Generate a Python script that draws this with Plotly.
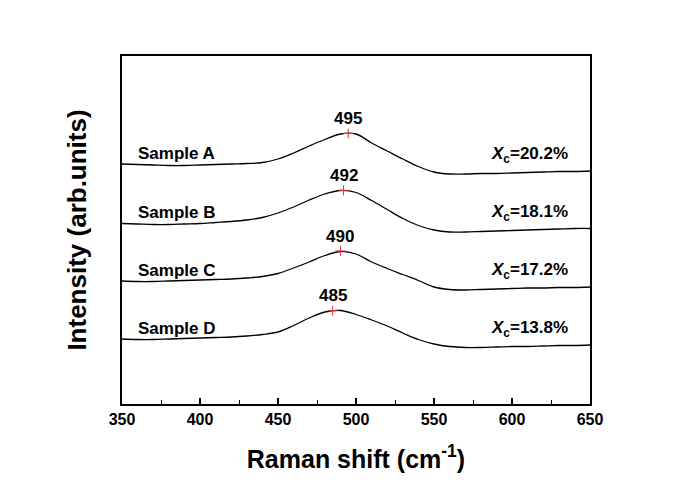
"""Raman spectra of samples A-D with crystalline fraction labels."""

import numpy as np
import plotly.graph_objects as go

raman_shift = list(range(350, 651, 10))

intensity_a = [240, 239.5, 239, 238.5, 238.5, 239, 239.5, 240, 240.5, 241.5, 245, 251, 258, 264.5, 270,
               270, 261, 253, 245, 237.5, 232, 230, 230, 230.5, 230.5, 231, 231.5, 232, 232.5, 232.5, 233]
intensity_b = [180.5, 180, 179.5, 179.5, 180, 180.5, 181.5, 182.5, 184, 186.5, 191, 197, 204, 210, 213.5,
               211.5, 203.5, 194.5, 185.5, 178.5, 174, 172, 172, 172.5, 173, 173.5, 174, 174.5, 175, 175.5, 175.5]
intensity_c = [123, 122.5, 122.5, 123, 123.5, 124, 124.5, 125, 126, 127.5, 130.5, 136, 142, 148.5, 152.5,
               150, 142, 135.5, 129.5, 123.5, 117, 114.5, 114, 114.5, 115, 115.5, 116, 116, 116.5, 116.5, 117]
intensity_d = [65, 64.5, 64.5, 65, 65.5, 66, 66.5, 67, 68, 69.5, 72, 78.5, 86, 92, 93.5,
               89.5, 84, 78, 71, 64.5, 60, 57.5, 56.5, 56.5, 57, 57.5, 57.5, 58, 58.5, 58.5, 59]

sample_names = ["Sample A", "Sample B", "Sample C", "Sample D"]
peak_positions = [495, 492, 490, 485]
crystalline_fraction = ["20.2%", "18.1%", "17.2%", "13.8%"]
series = [intensity_a, intensity_b, intensity_c, intensity_d]

FONT = "Arial, Liberation Sans, sans-serif"

fig = go.Figure()

for name, ys, peak, xc in zip(sample_names, series, peak_positions, crystalline_fraction):
    fig.add_trace(go.Scatter(
        x=raman_shift, y=ys, mode="lines", name=name,
        line=dict(color="black", width=1.3, shape="spline", smoothing=1.0),
        showlegend=False,
    ))
    peak_y = float(np.interp(peak, raman_shift, ys)) + 0.5
    fig.add_trace(go.Scatter(
        x=[peak], y=[peak_y], mode="markers",
        marker=dict(symbol="cross-thin", size=7, line=dict(color="#e8333a", width=1)),
        showlegend=False,
    ))
    fig.add_annotation(x=peak, y=peak_y + 15, text=f"<b>{peak}</b>", showarrow=False,
                       font=dict(family=FONT, size=17, color="black"))
    fig.add_annotation(x=359, y=ys[0] + 11, text=f"<b>{name}</b>", showarrow=False,
                       xanchor="left", font=dict(family=FONT, size=17, color="black"))
    fig.add_annotation(x=637, y=ys[-1] + 16, text=f"<b><i>X</i><sub>c</sub>={xc}</b>", showarrow=False,
                       xanchor="right", font=dict(family=FONT, size=17, color="black"))

fig.update_xaxes(
    range=[350, 650], dtick=50, ticks="inside", ticklen=6, tickwidth=1.5, tickcolor="black",
    minor=dict(dtick=25, ticks="inside", ticklen=4, tickwidth=1.2, tickcolor="black"),
    showline=True, linecolor="black", linewidth=2, mirror=True, showgrid=False, zeroline=False,
    tickfont=dict(family=FONT, size=16, color="black"),
    tickprefix="<b>", ticksuffix="</b>",
    title=dict(text="<b>Raman shift (cm<sup>-1</sup>)</b>", font=dict(family=FONT, size=25, color="black"),
               standoff=23),
)
fig.update_yaxes(
    range=[0, 348], showticklabels=False, ticks="", showgrid=False, zeroline=False,
    showline=True, linecolor="black", linewidth=2, mirror=True,
    title=dict(text="<b>Intensity (arb.units)</b>", font=dict(family=FONT, size=26, color="black"),
               standoff=26),
)
fig.update_layout(
    width=677, height=476, template="plotly_white",
    paper_bgcolor="white", plot_bgcolor="white",
    margin=dict(l=114, r=95, t=48, b=80),
)

fig.write_html("out.html")
